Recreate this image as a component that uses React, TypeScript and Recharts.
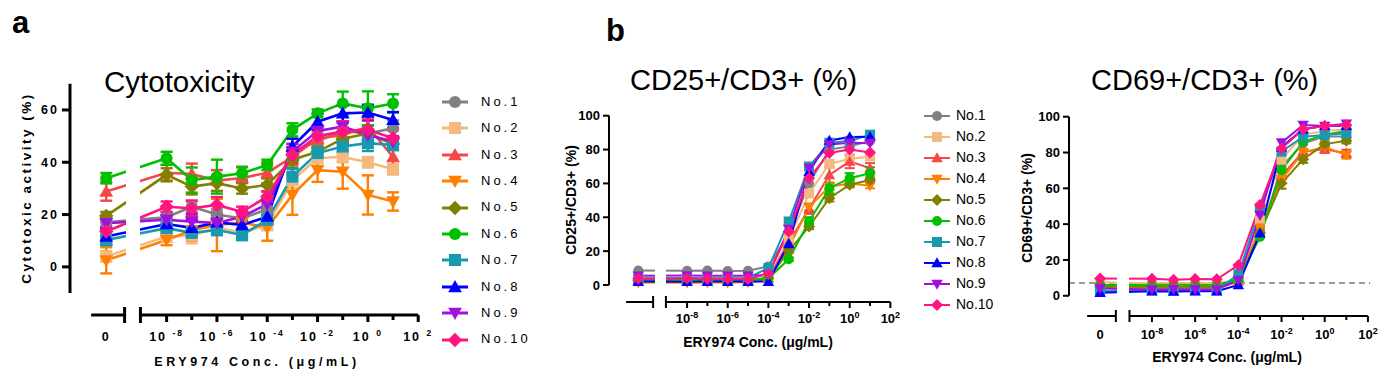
import React from 'react';
import { LineChart, Line, XAxis, YAxis, ReferenceLine, ErrorBar } from 'recharts';

const FONT = '"Liberation Sans", Arial, Helvetica, sans-serif';

// concentrations (µg/mL); 0 is drawn left of the axis break
const doses = [0, 1e-8, 1e-7, 1e-6, 1e-5, 1e-4, 1e-3, 1e-2, 1e-1, 1, 10];
const decadeTicks = [-8, -7, -6, -5, -4, -3, -2, -1, 0, 1, 2];
const donors = ['No.1', 'No.2', 'No.3', 'No.4', 'No.5', 'No.6', 'No.7', 'No.8', 'No.9', 'No.10'];
const colors = ['#808080', '#F4B97F', '#F44848', '#FF7F00', '#808000', '#00C000', '#1799B0', '#0000FF', '#A010E0', '#FF1480'];
const shapes = ['circle', 'square', 'up', 'down', 'diamond', 'circle', 'square', 'up', 'down', 'diamond'];

// a: cytotoxicity (%)
const cytoMean = [
  [17, 19, 23, 20, 18.5, 22, 44, 48, 52, 51, 53],
  [4, 11.6, 12, 15, 13, 16, 33, 41.6, 42, 40, 37.3],
  [28.8, 36, 35.5, 33, 34, 36, 42, 49, 50.4, 53.6, 42],
  [2.5, 10.3, 14, 16, 17, 15, 27.5, 37, 36.4, 27.5, 25],
  [19.5, 35.2, 30.7, 32, 30, 31.3, 41, 44, 49, 51, 47],
  [33.9, 41.5, 33.2, 34.5, 35.8, 39, 52.4, 58.7, 62.5, 60.6, 62.5],
  [10.3, 14.8, 13, 14.1, 12.2, 18, 34.5, 43.5, 46, 47.3, 46.6],
  [11.6, 16.4, 14.9, 17, 16, 19.2, 46, 55.5, 58.7, 59, 56.2],
  [16.7, 18, 17.3, 16.8, 19.2, 24, 44, 52, 53.6, 50.4, 47.9],
  [13.5, 23, 22.4, 23.7, 21, 26.9, 42.8, 50, 51.7, 52.4, 49.2],
];
const cytoErr = [
  [2, 2, 2, 2, 2, 2, 3, 3, 3, 3, 3],
  [2, 2, 3, 2, 2, 2, 3, 2, 2, 2, 2],
  [3.5, 3, 4, 4, 4, 4, 3, 3, 3, 4, 5],
  [5, 2, 4, 10, 3, 5, 7.6, 4.5, 6.5, 7.5, 3.5],
  [1.5, 2.5, 3, 3, 2, 2.5, 3, 2, 2, 3, 2],
  [2, 2.5, 4.8, 6.5, 2.5, 2, 2.5, 1.5, 4.5, 6.5, 3.5],
  [2, 1.5, 2, 2, 2, 2, 3, 2, 2, 3, 2],
  [3, 2, 3, 3, 2, 3, 3, 3, 3, 3, 3],
  [2, 2, 3, 2, 2, 2, 3, 2, 2, 2, 2],
  [2, 2, 3, 3, 2, 2, 3, 3, 4, 4, 3],
];

// b: CD25+/CD3+ (%)
const cd25Mean = [
  [8.5, 8.4, 8.5, 8.3, 8.4, 11, 30, 60, 80, 82, 85],
  [3, 3.1, 3, 3, 3.2, 4, 27, 54, 71.6, 74.4, 75.9],
  [3, 2.9, 3, 3.1, 3, 4, 25, 45, 65, 73, 69],
  [1.5, 1.4, 1.5, 1.5, 1.6, 3, 22, 46, 58, 60, 58.6],
  [2.5, 2.4, 2.5, 2.6, 2.5, 4, 20, 34.5, 51.3, 59.2, 62],
  [3, 3, 2.9, 3, 3, 4, 15.2, 37.5, 57.2, 63.1, 66],
  [4, 4.1, 4, 4, 4.2, 10, 37.5, 70, 84, 85, 88.8],
  [2, 1.9, 2, 2, 2, 2, 24.3, 67, 85.4, 87.4, 87.6],
  [5.5, 5.6, 5.5, 5.4, 5.5, 6, 33, 69, 83, 84, 83.8],
  [3.7, 3.8, 3.7, 3.7, 3.6, 6.5, 31.6, 63, 78, 80, 78.3],
];
const cd25Err = [
  null,
  [0, 0, 0, 0, 0, 0, 1, 2, 2, 2.5, 2],
  [0, 0, 0, 0, 0, 0, 1, 3, 4.5, 4, 3],
  [0, 0, 0, 0, 0, 0, 1, 2, 2, 1.5, 1.5],
  [0, 0, 0, 0, 0, 0, 1, 1.5, 2, 1.5, 1.5],
  [0, 0, 0, 0, 0, 0, 1, 2.5, 3, 3, 3.5],
  null,
  null,
  null,
  null,
];

// b: CD69+/CD3+ (%)
const cd69Mean = [
  [5, 4.5, 4.6, 4.5, 4.4, 8, 33, 72, 85, 89, 89],
  [7.5, 7, 7.1, 7, 7, 9, 42, 76, 90, 92, 93],
  [5, 5.1, 5, 5, 5.1, 8, 37, 67, 80.5, 81.8, 79.6],
  [4.5, 4, 4.1, 4, 4, 8, 38, 65, 80, 83, 78.6],
  [5, 5, 5.1, 5, 5, 8, 35, 62.8, 76.2, 84.7, 86.6],
  [6, 6, 6.1, 6, 6.2, 9, 33, 70.2, 86, 90, 92],
  [2.5, 3, 3, 3.1, 3, 12, 48.8, 80.5, 88.8, 89.8, 90.7],
  [1.7, 2.5, 2.4, 2.5, 2.5, 6, 34.9, 83, 93, 95, 95],
  [4.1, 3.5, 3.6, 3.5, 3.5, 8.8, 45, 85.5, 95.4, 94.8, 96],
  [9.7, 9.5, 9, 9.3, 9.2, 17.1, 50.7, 82.3, 93, 94.8, 95.4],
];
const cd69Err = [
  null,
  null,
  [0, 0, 0, 0, 0, 0, 1, 2, 1.5, 2, 2],
  [0, 0, 0, 0, 0, 0, 1, 2, 2, 1.5, 2],
  [0, 0, 0, 0, 0, 0, 1, 3, 2, 1.5, 1.5],
  null,
  null,
  null,
  null,
  null,
];
const cd69Baseline = 7.1;

// shared x layout in "decade" units
const XMIN = -11.84;
const XMAX = 2.1;
const ZERO_POS = -10.4;
const SEG1 = [-11, -9.67];
const SEG2 = [-9.04, 2];
const GAP = [-9.6, -9.05];
const Y_W = 60;
const X_H = 50;
const RIGHT_PAD = 22;

type Geom = {
  plotLeft: number; decade: number; plotTop: number; plotBottom: number;
  yMin: number; yMax: number; yFrom: number; yTo: number; yTicks: number[];
  axisW: number; lineW: number; marker: number; errW: number; cap: number;
  tickMajor: number; tickMinor: number; tickFont: number; tickSpacing: number;
  labelDy: number; supSize: number; supDy: number; yTickSize: number; yTickMargin: number;
  yTickFont: number; breakHalf: number;
};

const geomA: Geom = {
  plotLeft: 70, decade: 25.16, plotTop: 83, plotBottom: 315,
  yMin: -18.4, yMax: 70.3, yFrom: -10, yTo: 70, yTicks: [0, 20, 40, 60],
  axisW: 3, lineW: 2.6, marker: 12, errW: 2.4, cap: 12,
  tickMajor: 7, tickMinor: 5, tickFont: 12.5, tickSpacing: 2,
  labelDy: 26, supSize: 8.5, supDy: -5, yTickSize: 8, yTickMargin: 3,
  yTickFont: 12.5, breakHalf: 8,
};
const geomCD25: Geom = {
  plotLeft: 609, decade: 20.33, plotTop: 115.7, plotBottom: 302,
  yMin: -10.04, yMax: 100, yFrom: 0, yTo: 100, yTicks: [0, 20, 40, 60, 80, 100],
  axisW: 2, lineW: 2, marker: 10, errW: 2, cap: 10,
  tickMajor: 6, tickMinor: 4, tickFont: 13, tickSpacing: 0,
  labelDy: 21, supSize: 9, supDy: -5, yTickSize: 6, yTickMargin: 3,
  yTickFont: 13, breakHalf: 6,
};
const geomCD69: Geom = {
  ...geomCD25,
  plotLeft: 1069, decade: 21.6, plotTop: 116.7, plotBottom: 316,
  yMin: -11.3, labelDy: 23,
};

function Marker({ shape, cx, cy, size, color }: any) {
  const r = size / 2;
  if (shape === 'circle') return <circle cx={cx} cy={cy} r={r} fill={color} />;
  if (shape === 'square') return <rect x={cx - r} y={cy - r} width={size} height={size} fill={color} />;
  if (shape === 'up') {
    const a = r * 1.15;
    return <polygon points={`${cx},${cy - a} ${cx + a},${cy + a * 0.75} ${cx - a},${cy + a * 0.75}`} fill={color} />;
  }
  if (shape === 'down') {
    const a = r * 1.15;
    return <polygon points={`${cx},${cy + a} ${cx + a},${cy - a * 0.75} ${cx - a},${cy - a * 0.75}`} fill={color} />;
  }
  const d = r * 1.2;
  return <polygon points={`${cx},${cy - d} ${cx + d},${cy} ${cx},${cy + d} ${cx - d},${cy}`} fill={color} />;
}

function xTick(props: any, g: Geom) {
  const { x, y, payload } = props;
  const v = payload.value;
  const textStyle = { fontFamily: FONT, fontWeight: 700, fontSize: g.tickFont, letterSpacing: g.tickSpacing };
  if (v === ZERO_POS) {
    return <text x={x} y={y + g.labelDy} textAnchor="middle" fill="#000" style={textStyle}>0</text>;
  }
  const major = Math.round(v) % 2 === 0;
  return (
    <g>
      <line x1={x} x2={x} y1={y} y2={y + (major ? g.tickMajor : g.tickMinor)} stroke="#000" strokeWidth={g.axisW} />
      {major && (
        <text x={x} y={y + g.labelDy} textAnchor="middle" fill="#000" style={textStyle}>
          {g.tickSpacing ? '10 ' : '10'}
          <tspan dy={g.supDy} fontSize={g.supSize}>{String(v)}</tspan>
        </text>
      )}
    </g>
  );
}

function yTick(props: any, g: Geom) {
  const { x, y, payload } = props;
  return (
    <text x={x} y={y} dy="0.36em" textAnchor="end" fill="#000"
      style={{ fontFamily: FONT, fontWeight: 700, fontSize: g.yTickFont, letterSpacing: g.tickSpacing }}>
      {String(payload.value)}
    </text>
  );
}

function Panel({ g, means, errs, showZero, refY }: { g: Geom; means: number[][]; errs: (number[] | null)[]; showZero: boolean; refY?: number }) {
  const ppu = (g.plotBottom - g.plotTop) / (g.yMax - g.yMin);
  const plotWidth = (XMAX - XMIN) * g.decade;
  const rows = doses.map((d, i) => {
    const row: any = { p: d === 0 ? ZERO_POS : Math.log10(d) };
    means.forEach((s, k) => {
      row[`s${k}`] = s[i];
      const e = errs[k];
      if (e) row[`e${k}`] = e[i];
    });
    return row;
  });
  const xTicks = showZero ? [ZERO_POS, ...decadeTicks] : decadeTicks;
  const axisY = g.yMin;
  const bh = g.breakHalf / ppu;
  const gapLeft = g.plotLeft + (GAP[0] - XMIN) * g.decade;
  const gapW = (GAP[1] - GAP[0]) * g.decade;
  return (
    <>
      <div style={{ position: 'absolute', left: g.plotLeft - Y_W, top: 0 }}>
        <LineChart width={Y_W + plotWidth + RIGHT_PAD} height={g.plotBottom + X_H} data={rows}
          margin={{ top: g.plotTop, right: RIGHT_PAD, bottom: 0, left: 0 }}>
          <XAxis dataKey="p" type="number" domain={[XMIN, XMAX]} allowDataOverflow ticks={xTicks} interval={0}
            tickLine={false} axisLine={false} tickSize={0} tickMargin={0} height={X_H}
            tick={(p: any) => xTick(p, g)} />
          <YAxis type="number" domain={[g.yMin, g.yMax]} allowDataOverflow ticks={g.yTicks} interval={0} width={Y_W}
            axisLine={false} tickLine={{ stroke: '#000', strokeWidth: g.axisW }} tickSize={g.yTickSize}
            tickMargin={g.yTickMargin} tick={(p: any) => yTick(p, g)} />
          {refY !== undefined && (
            <ReferenceLine y={refY} stroke="#9a9a9a" strokeWidth={2} strokeDasharray="6 4" />
          )}
          <ReferenceLine segment={[{ x: XMIN, y: g.yFrom }, { x: XMIN, y: g.yTo }]} stroke="#000" strokeWidth={g.axisW} ifOverflow="visible" />
          <ReferenceLine segment={[{ x: SEG1[0], y: axisY }, { x: SEG1[1], y: axisY }]} stroke="#000" strokeWidth={g.axisW} ifOverflow="visible" />
          <ReferenceLine segment={[{ x: SEG2[0], y: axisY }, { x: SEG2[1], y: axisY }]} stroke="#000" strokeWidth={g.axisW} ifOverflow="visible" />
          <ReferenceLine segment={[{ x: SEG1[1], y: axisY - bh }, { x: SEG1[1], y: axisY + bh }]} stroke="#000" strokeWidth={g.axisW} ifOverflow="visible" />
          <ReferenceLine segment={[{ x: SEG2[0], y: axisY - bh }, { x: SEG2[0], y: axisY + bh }]} stroke="#000" strokeWidth={g.axisW} ifOverflow="visible" />
          {means.map((_, k) => (
            <Line key={donors[k]} dataKey={`s${k}`} name={donors[k]} type="linear" stroke={colors[k]}
              strokeWidth={g.lineW} isAnimationActive={false} activeDot={false}
              dot={(p: any) => <Marker key={`d${k}-${p.index}`} shape={shapes[k]} cx={p.cx} cy={p.cy} size={g.marker} color={colors[k]} />}>
              {errs[k] && (
                <ErrorBar dataKey={`e${k}`} direction="y" width={g.cap / 2} stroke={colors[k]} strokeWidth={g.errW} isAnimationActive={false} />
              )}
            </Line>
          ))}
        </LineChart>
      </div>
      <div style={{ position: 'absolute', left: gapLeft, top: g.plotTop + 8, width: gapW, height: g.plotBottom - g.plotTop - g.breakHalf - 10, background: '#fff' }} />
    </>
  );
}

function Txt({ x, y, size, bold, spacing, center, children }: any) {
  return (
    <div style={{
      position: 'absolute', left: x, top: y - 0.8465 * size, fontSize: size, lineHeight: 1,
      fontWeight: bold ? 700 : 400, letterSpacing: spacing || 0, whiteSpace: 'nowrap', color: '#000',
      transform: center ? 'translateX(-50%)' : undefined,
    }}>{children}</div>
  );
}

function VTxt({ cx, cy, size, spacing, children }: any) {
  return (
    <div style={{
      position: 'absolute', left: cx, top: cy, fontSize: size, lineHeight: 1, fontWeight: 700,
      letterSpacing: spacing || 0, whiteSpace: 'nowrap', color: '#000',
      transform: 'translate(-50%, -50%) rotate(-90deg)',
    }}>{children}</div>
  );
}

function Legend({ left, top, step, size, lineW, textLeft, fontSize, spacing }: any) {
  return (
    <>
      {donors.map((d, k) => (
        <div key={d} style={{ position: 'absolute', left, top: top + k * step - 10, height: 20, width: 130 }}>
          <svg width={30} height={20} style={{ position: 'absolute', left: 0, top: 0 }}>
            <line x1={2} x2={28} y1={10} y2={10} stroke={colors[k]} strokeWidth={lineW} />
            <Marker shape={shapes[k]} cx={15} cy={10} size={size} color={colors[k]} />
          </svg>
          <div style={{ position: 'absolute', left: textLeft, top: 10 - fontSize * 0.55, fontSize, lineHeight: 1, letterSpacing: spacing || 0, color: '#000', whiteSpace: 'nowrap' }}>{d}</div>
        </div>
      ))}
    </>
  );
}

export default function App() {
  return (
    <div style={{ position: 'absolute', left: 0, top: 0, width: 1387, height: 370, overflow: 'hidden', background: '#fff', fontFamily: FONT }}>
      <Panel g={geomA} means={cytoMean} errs={cytoErr} showZero />
      <Panel g={geomCD25} means={cd25Mean} errs={cd25Err} showZero={false} />
      <Panel g={geomCD69} means={cd69Mean} errs={cd69Err} showZero refY={cd69Baseline} />

      <Txt x={12} y={33} size={31} bold>a</Txt>
      <Txt x={606} y={41} size={31} bold>b</Txt>

      <Txt x={104} y={92} size={29.5}>Cytotoxicity</Txt>
      <Txt x={630} y={91} size={29}>CD25+/CD3+ (%)</Txt>
      <Txt x={1091} y={91} size={29}>CD69+/CD3+ (%)</Txt>

      <VTxt cx={27} cy={188} size={13.5} spacing={2.5}>Cytotoxic activity (%)</VTxt>
      <VTxt cx={571} cy={200} size={14}>CD25+/CD3+ (%)</VTxt>
      <VTxt cx={1027} cy={208} size={14}>CD69+/CD3+ (%)</VTxt>

      <Txt x={257} y={367} size={12.5} bold spacing={3.6} center>ERY974 Conc. (μg/mL)</Txt>
      <Txt x={758} y={347} size={14} bold center>ERY974 Conc. (μg/mL)</Txt>
      <Txt x={1227} y={362} size={14} bold center>ERY974 Conc. (μg/mL)</Txt>

      <Legend left={440} top={102} step={26.4} size={12} lineW={3} textLeft={41} fontSize={13} spacing={3} />
      <Legend left={922} top={116} step={21} size={10} lineW={2} textLeft={34} fontSize={14} />
    </div>
  );
}
